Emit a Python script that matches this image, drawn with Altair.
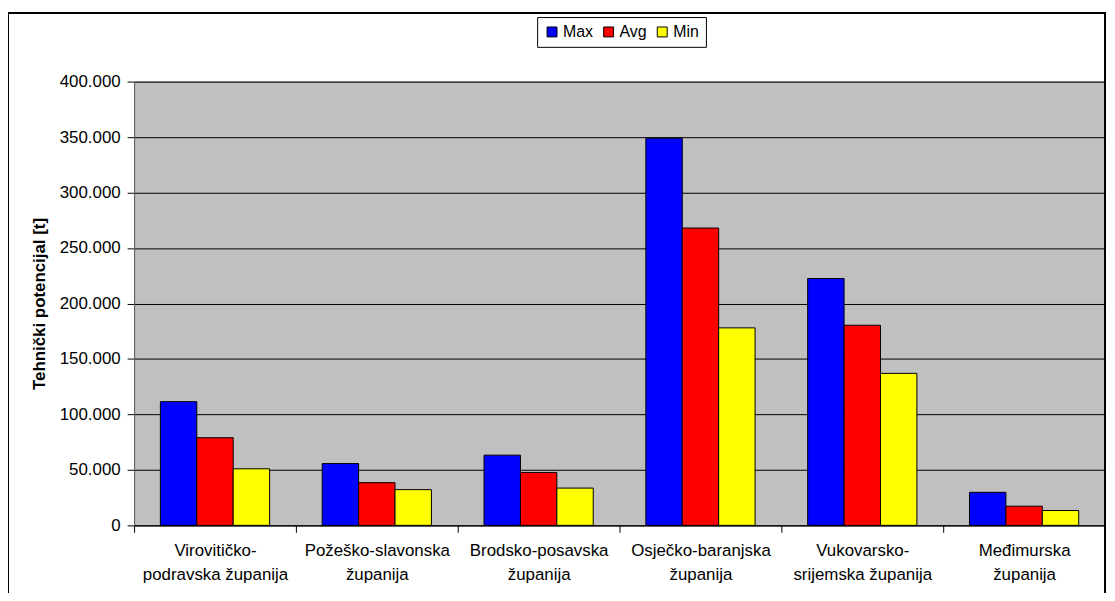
import altair as alt
import pandas as pd

counties = [
    "Virovitičko-|podravska županija",
    "Požeško-slavonska|županija",
    "Brodsko-posavska|županija",
    "Osječko-baranjska|županija",
    "Vukovarsko-|srijemska županija",
    "Međimurska|županija",
]
series = ["Max", "Avg", "Min"]
max_vals = [111500, 55700, 63300, 349000, 222500, 29800]
avg_vals = [79000, 38500, 47700, 268000, 180400, 17300]
min_vals = [51000, 32200, 33600, 178000, 137000, 13400]
colors = ["#0000FF", "#FF0000", "#FFFF00"]
y_ticks = [0, 50000, 100000, 150000, 200000, 250000, 300000, 350000, 400000]

rows = []
for i, c in enumerate(counties):
    for s, vals in zip(series, [max_vals, avg_vals, min_vals]):
        rows.append({"county": c, "series": s, "value": vals[i]})
df = pd.DataFrame(rows)

FONT = "Liberation Sans"

bars = alt.Chart(df).mark_bar(stroke="black", strokeWidth=1).encode(
    x=alt.X(
        "county:N",
        sort=counties,
        scale=alt.Scale(paddingInner=0, paddingOuter=0),
        axis=alt.Axis(
            title=None,
            labelExpr="split(datum.label, '|')",
            labelAngle=0,
            tickBand="extent",
            tickSize=7,
            tickColor="black",
            domainColor="black",
            labelFontSize=17,
            labelFont=FONT,
            labelColor="black",
            labelLineHeight=25,
            labelPadding=10,
            labelLimit=0,
            grid=False,
        ),
    ),
    xOffset=alt.XOffset(
        "series:N", sort=series, scale=alt.Scale(paddingInner=0, paddingOuter=0.7225)
    ),
    y=alt.Y(
        "value:Q",
        scale=alt.Scale(domain=[0, 400000], nice=False),
        axis=alt.Axis(
            title="Tehnički potencijal [t]",
            titleFont=FONT,
            titleFontSize=17,
            titleFontWeight="bold",
            titleColor="black",
            titleAngle=270,
            titleX=-95,
            titleY=223.5,
            titleAlign="center",
            titleBaseline="middle",
            values=y_ticks,
            format=",d",
            labelExpr="replace(datum.label, ',', '.')",
            labelFontSize=17,
            labelFont=FONT,
            labelColor="black",
            labelPadding=7,
            tickSize=7,
            tickColor="black",
            domainColor="#606060",
            grid=True,
            gridColor="black",
            gridWidth=1,
            gridOpacity=1,
        ),
    ),
    color=alt.Color(
        "series:N",
        sort=series,
        scale=alt.Scale(domain=series, range=colors),
        legend=alt.Legend(
            title=None,
            orient="none",
            direction="horizontal",
            legendX=406,
            legendY=-65,
            symbolType="square",
            symbolSize=100,
            symbolStrokeColor="black",
            symbolStrokeWidth=1,
            symbolOpacity=1,
            labelFontSize=16,
            labelFont=FONT,
            labelColor="black",
            labelOffset=3,
            columnPadding=7,
            padding=7,
            strokeColor="black",
            fillColor="white",
        ),
    ),
)

border = alt.Chart(alt.Data(values=[{}])).mark_rect(
    fill=None, stroke="black", strokeWidth=2
).encode(
    x=alt.value(-127), x2=alt.value(978), y=alt.value(-69), y2=alt.value(540)
)

chart = alt.layer(bars, border).properties(
    width=978,
    height=447,
    padding={"left": 127, "top": 72, "right": 2, "bottom": 66},
    autosize=alt.AutoSizeParams(type="none"),
    background="white",
).configure_view(fill="#C0C0C0", stroke="#808080", strokeWidth=1)

chart.save("out.html", embed_options={"renderer": "svg", "actions": False})
